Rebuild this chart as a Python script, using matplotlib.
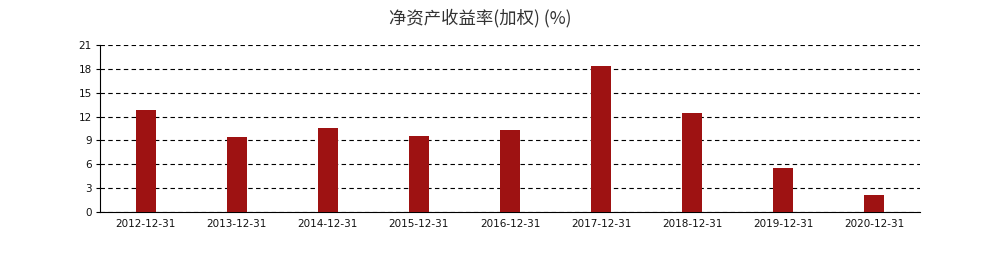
import numpy as np
import matplotlib
matplotlib.use("Agg")
import matplotlib.pyplot as plt

plt.rcParams['font.family'] = ['Noto Sans CJK SC', 'DejaVu Sans']

dates = ["2012-12-31", "2013-12-31", "2014-12-31", "2015-12-31", "2016-12-31",
         "2017-12-31", "2018-12-31", "2019-12-31", "2020-12-31"]
roe = [12.8, 9.4, 10.6, 9.5, 10.35, 18.4, 12.4, 5.5, 2.2]
yticks = [0, 3, 6, 9, 12, 15, 18, 21]

fig = plt.figure(figsize=(9.86, 2.57), dpi=100)
ax = fig.add_axes([100 / 986, 45 / 257, 820 / 986, 167 / 257])

x = np.arange(len(dates))
ax.bar(x, roe, width=0.22, color='#9e1212', zorder=3)

ax.set_xlim(-0.5, len(dates) - 0.5)
ax.set_ylim(0, 21)
ax.set_yticks(yticks)
ax.set_xticks(x)
ax.set_xticklabels(dates, family='DejaVu Sans')
ax.set_yticklabels([str(v) for v in yticks], family='DejaVu Sans')
ax.tick_params(axis='x', length=0, labelsize=7.5, pad=5, labelcolor='#111111')
ax.tick_params(axis='y', length=3, labelsize=7.5, pad=3, labelcolor='#111111')

ax.grid(axis='y', linestyle=(0, (4, 3)), color='black', linewidth=0.8, zorder=0)
for s in ['top', 'right']:
    ax.spines[s].set_visible(False)
ax.spines['left'].set_linewidth(0.8)
ax.spines['bottom'].set_linewidth(0.8)

fig.text(480 / 986, 1 - 18 / 257, "净资产收益率(加权) (%)", ha='center', va='center',
         fontsize=12.5, color='#333333')

fig.savefig("out.png", dpi=100)
